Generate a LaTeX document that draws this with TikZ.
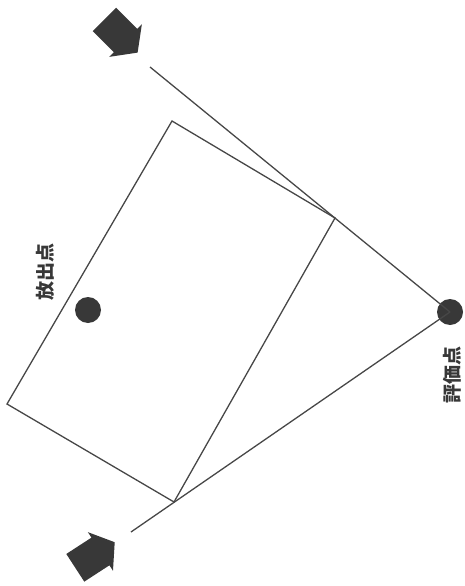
\documentclass[tikz,border=0pt]{standalone}
\usepackage{fontspec}
\newfontfamily\jpfont{Noto Sans CJK JP}

\begin{document}
\begin{tikzpicture}[
  x=1pt,y=-1pt,
  edge/.style={draw=black!72,line width=1.3pt},
  spot/.style={circle,fill=black!78,inner sep=0pt,minimum size=26pt},
  tag/.style={font=\jpfont\bfseries\fontsize{19pt}{19pt}\selectfont,text=black!78,rotate=90,inner sep=0pt},
  flow/.style={fill=black!78}]
\useasboundingbox (0,0) rectangle (464,586);
% rectangle corners
\coordinate (top) at (172,121);
\coordinate (right) at (335,218);
\coordinate (bottom) at (174,502);
\coordinate (left) at (7,404);
\coordinate (raystart) at (150,67);
\coordinate (rayend) at (131,532);
\node[spot] (source) at (88,310) {};
\node[spot] (evalpt) at (450,312) {};
\node[tag] (sourcetag) at (45,272) {放出点};
\node[tag] (evaltag) at (452,375) {評価点};
% wind arrows
\foreach \pos/\ang in {{(121,36)}/-45,{(95,555)}/33}
  \fill[flow,shift={\pos},rotate=\ang]
    (-23.5,-16.5) -- (6.5,-16.5) -- (6.5,-23) -- (23.5,0) -- (6.5,23) -- (6.5,16.5) -- (-23.5,16.5) -- cycle;
\draw[edge] (top) -- (right) -- (bottom) -- (left) -- cycle;
\draw[edge] (raystart) -- (evalpt.center);
\draw[edge] (rayend) -- (evalpt.center);
\end{tikzpicture}
\end{document}
